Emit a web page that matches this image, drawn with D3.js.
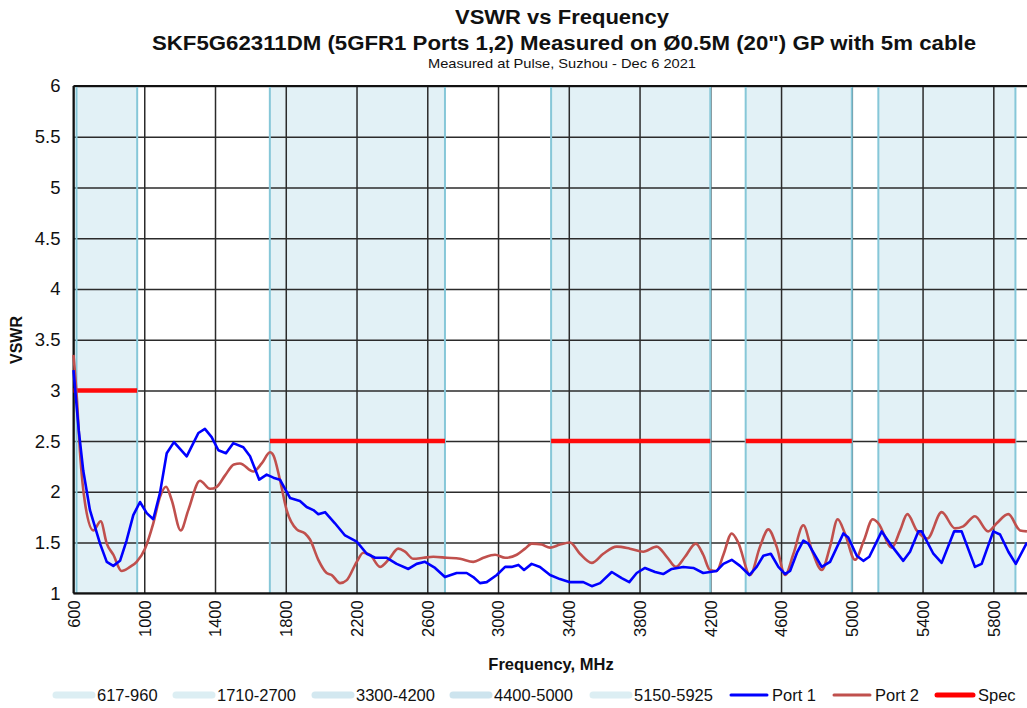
<!DOCTYPE html>
<html>
<head>
<meta charset="utf-8">
<script src="https://cdn.jsdelivr.net/npm/d3@7"></script>
<style>
body { margin: 0; background: #fff; }
svg text { font-family: "Liberation Sans", Arial, sans-serif; fill: #111; }
</style>
</head>
<body>
<div id="wrapper"></div>
<script>
var width = 1027, height = 708;

// frequency bands (MHz)
var bandStart = [617, 1710, 3300, 4400, 5150];
var bandEnd   = [960, 2700, 4200, 5000, 5925];
var bandNames = ["617-960", "1710-2700", "3300-4200", "4400-5000", "5150-5925"];

// spec limits
var specStart = [600, 1710, 3300, 4400, 5150];
var specEnd   = [960, 2700, 4200, 5000, 5925];
var specValue = [3, 2.5, 2.5, 2.5, 2.5];

var xTicks = [600, 1000, 1400, 1800, 2200, 2600, 3000, 3400, 3800, 4200, 4600, 5000, 5400, 5800];
var yTicks = [1, 1.5, 2, 2.5, 3, 3.5, 4, 4.5, 5, 5.5, 6];

// Port 1
var port1Freq = [600, 630, 655, 693, 750, 788, 825, 863, 900, 938, 976, 1014, 1051, 1089, 1127, 1168, 1240, 1306, 1343, 1381,
	1419, 1462, 1503, 1560, 1598, 1650, 1692, 1730, 1767, 1824, 1880, 1918, 1956, 1984, 2022, 2078, 2135, 2201, 2258, 2305,
	2371, 2427, 2493, 2540, 2587, 2644, 2700, 2766, 2823, 2860, 2898, 2936, 2993, 3040, 3077, 3115, 3147, 3190, 3237, 3294,
	3350, 3407, 3482, 3530, 3577, 3643, 3699, 3742, 3784, 3831, 3888, 3934, 3982, 4047, 4104, 4160, 4198, 4236, 4274, 4321,
	4368, 4421, 4462, 4500, 4542, 4585, 4623, 4651, 4690, 4726, 4754, 4830, 4877, 4952, 4980, 5028, 5065, 5099, 5169, 5216,
	5291, 5329, 5376, 5395, 5461, 5508, 5578, 5621, 5696, 5734, 5800, 5838, 5885, 5927, 5990];
var port1Vswr = [3.2, 2.6, 2.21, 1.82, 1.49, 1.31, 1.27, 1.32, 1.52, 1.77, 1.90, 1.79, 1.73, 1.99, 2.38, 2.49, 2.35, 2.58, 2.62, 2.54,
	2.41, 2.38, 2.48, 2.44, 2.35, 2.12, 2.17, 2.14, 2.12, 1.94, 1.91, 1.85, 1.82, 1.78, 1.80, 1.69, 1.57, 1.51, 1.39, 1.35,
	1.35, 1.29, 1.24, 1.29, 1.31, 1.25, 1.16, 1.20, 1.20, 1.16, 1.10, 1.11, 1.18, 1.26, 1.26, 1.28, 1.23, 1.29, 1.26, 1.18,
	1.14, 1.11, 1.11, 1.07, 1.10, 1.21, 1.15, 1.11, 1.20, 1.25, 1.21, 1.19, 1.24, 1.26, 1.25, 1.20, 1.21, 1.22, 1.29, 1.33,
	1.27, 1.18, 1.26, 1.37, 1.39, 1.26, 1.19, 1.22, 1.40, 1.52, 1.49, 1.26, 1.31, 1.59, 1.55, 1.37, 1.32, 1.36, 1.61, 1.49,
	1.32, 1.41, 1.61, 1.61, 1.39, 1.30, 1.61, 1.61, 1.26, 1.29, 1.61, 1.58, 1.41, 1.29, 1.50];

// Port 2
var port2Freq = [600, 620, 637, 665, 712, 754, 788, 825, 872, 919, 957, 1004, 1051, 1089, 1123, 1155, 1206, 1249, 1315, 1372,
	1410, 1456, 1507, 1541, 1617, 1664, 1711, 1730, 1767, 1805, 1862, 1909, 1937, 1984, 2031, 2060, 2107, 2145, 2201, 2238,
	2276, 2333, 2380, 2436, 2474, 2521, 2578, 2634, 2710, 2785, 2860, 2917, 2983, 3040, 3106, 3153, 3190, 3247, 3294, 3350,
	3407, 3463, 3530, 3595, 3671, 3746, 3821, 3897, 3954, 4006, 4057, 4118, 4160, 4198, 4236, 4274, 4321, 4358, 4425, 4481,
	4528, 4575, 4623, 4670, 4726, 4773, 4830, 4877, 4920, 4961, 5018, 5068, 5118, 5150, 5226, 5273, 5314, 5367, 5427, 5508,
	5583, 5630, 5696, 5771, 5819, 5885, 5951, 5990];
var port2Vswr = [3.35, 2.9, 2.38, 1.89, 1.62, 1.71, 1.49, 1.38, 1.22, 1.26, 1.31, 1.44, 1.69, 1.95, 2.05, 1.92, 1.62, 1.82, 2.11, 2.03,
	2.05, 2.16, 2.27, 2.28, 2.20, 2.28, 2.39, 2.36, 2.12, 1.82, 1.63, 1.59, 1.53, 1.33, 1.20, 1.18, 1.10, 1.13, 1.31, 1.40,
	1.38, 1.26, 1.33, 1.44, 1.41, 1.34, 1.35, 1.36, 1.35, 1.34, 1.31, 1.35, 1.38, 1.35, 1.38, 1.44, 1.49, 1.48, 1.45, 1.48,
	1.50, 1.39, 1.30, 1.39, 1.46, 1.44, 1.41, 1.46, 1.36, 1.26, 1.36, 1.49, 1.38, 1.23, 1.22, 1.38, 1.59, 1.50, 1.18, 1.46,
	1.63, 1.46, 1.18, 1.39, 1.67, 1.43, 1.23, 1.46, 1.73, 1.59, 1.33, 1.52, 1.73, 1.69, 1.45, 1.62, 1.78, 1.62, 1.54, 1.80,
	1.64, 1.66, 1.76, 1.61, 1.69, 1.78, 1.62, 1.61];

var svg = d3.select("#wrapper").append("svg")
	.attr("width", width)
	.attr("height", height);

var x = d3.scaleLinear().domain([600, 6000]).range([73.5, 1028.7]);
var y = d3.scaleLinear().domain([1, 6]).range([593.3, 86]);

// titles
svg.append("text").attr("x", 562).attr("y", 24).attr("text-anchor", "middle")
	.attr("textLength", 214).attr("lengthAdjust", "spacingAndGlyphs")
	.style("font-size", "20px").style("font-weight", "bold").text("VSWR vs Frequency");
svg.append("text").attr("x", 564).attr("y", 50).attr("text-anchor", "middle")
	.attr("textLength", 824).attr("lengthAdjust", "spacingAndGlyphs")
	.style("font-size", "20px").style("font-weight", "bold")
	.text("SKF5G62311DM (5GFR1 Ports 1,2) Measured on \u00D80.5M (20\") GP with 5m cable");
svg.append("text").attr("x", 562).attr("y", 68).attr("text-anchor", "middle")
	.attr("textLength", 268).attr("lengthAdjust", "spacingAndGlyphs")
	.style("font-size", "13px").text("Measured at Pulse, Suzhou  - Dec 6 2021");

var plot = svg.append("g");

// bands
var bands = bandStart.map(function(s, i){ return {start: s, end: bandEnd[i]}; });
plot.selectAll("rect.band").data(bands).enter().append("rect")
	.attr("class", "band")
	.attr("x", function(d){ return x(d.start); })
	.attr("width", function(d){ return x(d.end) - x(d.start); })
	.attr("y", y(6))
	.attr("height", y(1) - y(6))
	.attr("fill", "#dbeef4")
	.attr("fill-opacity", 0.8);

// grid
plot.append("g")
	.attr("transform", "translate(0," + y(1) + ")")
	.call(d3.axisBottom(x).tickValues(xTicks).tickSize(-(y(1) - y(6))).tickFormat(""))
	.call(function(g){ g.select(".domain").remove(); })
	.selectAll("line").attr("stroke", "#2b2b2b").attr("stroke-width", 1.5);
plot.append("g")
	.attr("transform", "translate(" + x(600) + ",0)")
	.call(d3.axisLeft(y).tickValues(yTicks).tickSize(-(x(6000) - x(600))).tickFormat(""))
	.call(function(g){ g.select(".domain").remove(); })
	.selectAll("line").attr("stroke", "#2b2b2b").attr("stroke-width", 1.5);

// band edges
var edges = bandStart.concat(bandEnd);
plot.selectAll("line.edge").data(edges).enter().append("line")
	.attr("class", "edge")
	.attr("x1", function(d){ return x(d); })
	.attr("x2", function(d){ return x(d); })
	.attr("y1", y(6)).attr("y2", y(1))
	.attr("stroke", "#86c7d8").attr("stroke-width", 2);

// axis lines
plot.append("line").attr("x1", x(600)).attr("x2", x(600)).attr("y1", y(6)).attr("y2", y(1))
	.attr("stroke", "#111").attr("stroke-width", 2);
plot.append("line").attr("x1", x(600)).attr("x2", x(6000)).attr("y1", y(1)).attr("y2", y(1))
	.attr("stroke", "#111").attr("stroke-width", 2);
plot.append("line").attr("x1", x(600)).attr("x2", x(6000)).attr("y1", y(6)).attr("y2", y(6))
	.attr("stroke", "#111").attr("stroke-width", 2);

// tick labels
var yAxis = svg.append("g")
	.attr("transform", "translate(" + x(600) + ",0)")
	.call(d3.axisLeft(y).tickValues(yTicks).tickSize(0).tickPadding(13).tickFormat(function(d){ return String(d); }));
yAxis.select(".domain").remove();
yAxis.selectAll("text").style("font-size", "18.5px").style("font-family", "Liberation Sans, Arial, sans-serif").attr("fill", "#111");

var xAxis = svg.append("g")
	.attr("transform", "translate(0," + y(1) + ")")
	.call(d3.axisBottom(x).tickValues(xTicks).tickSize(0).tickFormat(function(d){ return String(d); }));
xAxis.select(".domain").remove();
xAxis.selectAll("text")
	.style("font-size", "16.5px").style("font-family", "Liberation Sans, Arial, sans-serif").attr("fill", "#111")
	.attr("text-anchor", "end")
	.attr("transform", "rotate(-90)")
	.attr("x", -7).attr("y", 0).attr("dy", "0.35em");

// axis titles
svg.append("text").attr("transform", "translate(22,340) rotate(-90)").attr("text-anchor", "middle")
	.style("font-size", "16px").style("font-weight", "bold").text("VSWR");
svg.append("text").attr("x", 551).attr("y", 670).attr("text-anchor", "middle")
	.style("font-size", "16.5px").style("font-weight", "bold").text("Frequency, MHz");

// spec
var specs = specStart.map(function(s, i){ return {start: s, end: specEnd[i], v: specValue[i]}; });
plot.selectAll("line.spec").data(specs).enter().append("line")
	.attr("class", "spec")
	.attr("x1", function(d){ return x(d.start); })
	.attr("x2", function(d){ return x(d.end); })
	.attr("y1", function(d){ return y(d.v); })
	.attr("y2", function(d){ return y(d.v); })
	.attr("stroke", "#ff0a0a").attr("stroke-width", 4.5);

// ports
var port1 = port1Freq.map(function(f, i){ return [f, port1Vswr[i]]; });
var port2 = port2Freq.map(function(f, i){ return [f, port2Vswr[i]]; });

var line1 = d3.line().x(function(d){ return x(d[0]); }).y(function(d){ return y(d[1]); });
var line2 = d3.line().curve(d3.curveMonotoneX).x(function(d){ return x(d[0]); }).y(function(d){ return y(d[1]); });

plot.append("path").datum(port2).attr("d", line2)
	.attr("fill", "none").attr("stroke", "#c0504d").attr("stroke-width", 2.6);
plot.append("path").datum(port1).attr("d", line1)
	.attr("fill", "none").attr("stroke", "#0000ff").attr("stroke-width", 2.6).attr("stroke-linejoin", "round");

// legend
var legendItems = [
	{name: bandNames[0], color: "#dceef3", w: 7, x0: 56},
	{name: bandNames[1], color: "#dceef3", w: 7, x0: 176},
	{name: bandNames[2], color: "#d3e8f0", w: 7, x0: 315},
	{name: bandNames[3], color: "#cde4ee", w: 7, x0: 453},
	{name: bandNames[4], color: "#dceef3", w: 7, x0: 593},
	{name: "Port 1", color: "#0000ff", w: 3, x0: 731},
	{name: "Port 2", color: "#c0504d", w: 3, x0: 834},
	{name: "Spec", color: "#ff0000", w: 5, x0: 937}
];
var legend = svg.append("g").attr("transform", "translate(0,695)");
var li = legend.selectAll("g").data(legendItems).enter().append("g")
	.attr("transform", function(d){ return "translate(" + d.x0 + ",0)"; });
li.append("line").attr("x1", 0).attr("x2", 36)
	.attr("stroke", function(d){ return d.color; })
	.attr("stroke-width", function(d){ return d.w; })
	.attr("stroke-linecap", "round");
li.append("text").attr("x", 41).attr("dy", "0.35em")
	.style("font-size", "16.5px").text(function(d){ return d.name; });
</script>
</body>
</html>
